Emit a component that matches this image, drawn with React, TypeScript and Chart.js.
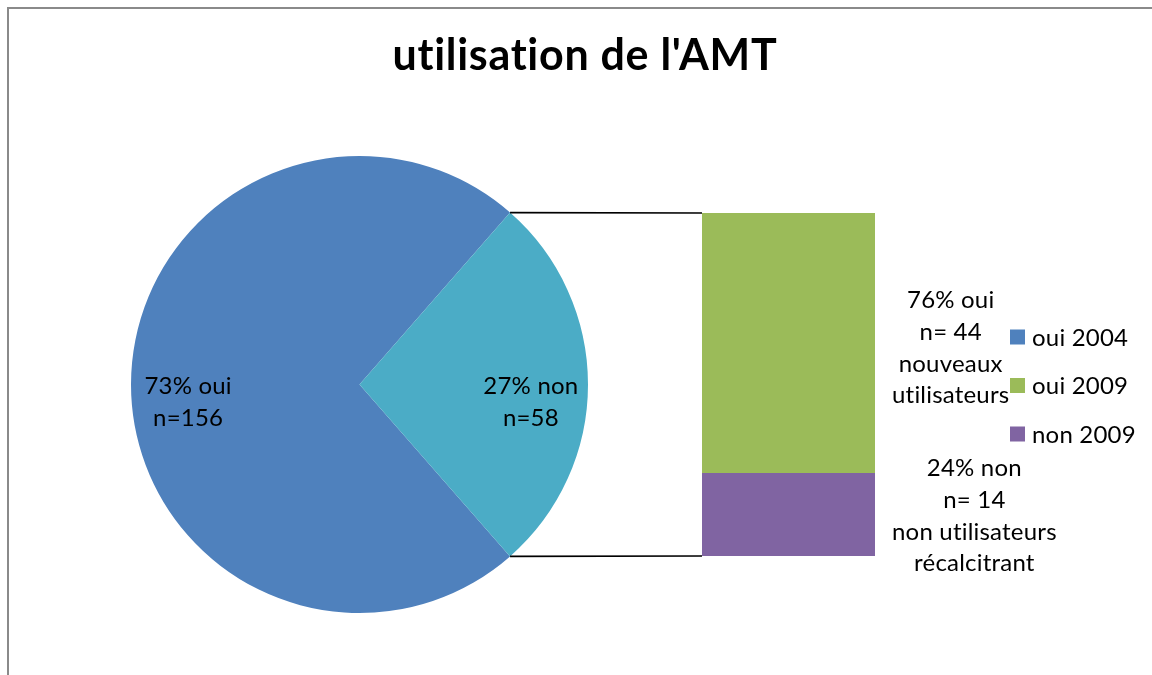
import React, { useEffect, useRef } from 'react';
import { Chart, registerables } from 'chart.js';

Chart.register(...registerables);

// ---------- data ----------
const chartTitle = "utilisation de l'AMT";

const pieCategories = ['oui 2004', 'non 2004'];
const pieValues = [156, 58];
const pieDataLabels = [
  ['73% oui', 'n=156'],
  ['27% non', 'n=58'],
];

const barCategories = ['2009'];
const barSeriesNames = ['non 2009', 'oui 2009'];
const barNon2009 = [14];
const barOui2009 = [44];
const barDataLabels = [
  ['24% non', 'n= 14', 'non utilisateurs', 'récalcitrant'],
  ['76% oui', 'n= 44', 'nouveaux', 'utilisateurs'],
];

const legendLabels = ['oui 2004', 'oui 2009', 'non 2009'];

// ---------- style ----------
const BLUE = '#4F81BD';
const TEAL = '#4BACC6';
const GREEN = '#9BBB59';
const PURPLE = '#8064A2';
const legendColors = [BLUE, GREEN, PURPLE];

const FONT = 'Lato, "Open Sans", "Liberation Sans", sans-serif';
const W = 1144;
const H = 667;
const BODY_PX = 24;
const TITLE_PX = 43;

function noLigatures(ctx: any, spacing: string) {
  try {
    ctx.textRendering = 'optimizeSpeed';
  } catch (e) {}
  try {
    ctx.letterSpacing = spacing;
  } catch (e) {}
}

export default function App() {
  const pieRef = useRef<HTMLCanvasElement | null>(null);
  const barRef = useRef<HTMLCanvasElement | null>(null);

  useEffect(() => {
    if (!pieRef.current || !barRef.current) return;

    const total = pieValues.reduce((a, b) => a + b, 0);
    const firstSpan = (360 * pieValues[0]) / total;
    // centre the first slice at 9 o'clock so the second faces the bar
    const rotation = 270 - firstSpan / 2;

    const pieLabelPlugin = {
      id: 'pieLabels',
      afterDatasetsDraw(chart: any) {
        const ctx = chart.ctx;
        const meta = chart.getDatasetMeta(0);
        ctx.save();
        noLigatures(ctx, '0.2px');
        ctx.font = `${BODY_PX}px ${FONT}`;
        ctx.fillStyle = '#000';
        ctx.textAlign = 'center';
        ctx.textBaseline = 'middle';
        meta.data.forEach((arc: any, i: number) => {
          const p = arc.getProps(['x', 'y', 'startAngle', 'endAngle', 'outerRadius'], true);
          const mid = (p.startAngle + p.endAngle) / 2;
          const r = p.outerRadius * 0.75;
          const cx = p.x + r * Math.cos(mid);
          const cy = p.y + r * Math.sin(mid) + 18;
          const lines = pieDataLabels[i];
          const gap = 32.5;
          lines.forEach((t, k) => {
            ctx.fillText(t, cx, cy + (k - (lines.length - 1) / 2) * gap);
          });
        });
        ctx.restore();
      },
    };

    const pie = new Chart(pieRef.current, {
      type: 'pie',
      data: {
        labels: pieCategories,
        datasets: [
          {
            data: pieValues,
            backgroundColor: [BLUE, TEAL],
            borderWidth: 0,
          },
        ],
      },
      options: {
        responsive: false,
        animation: false,
        rotation,
        layout: { padding: { left: 123, right: 564, top: 148, bottom: 62 } },
        plugins: { legend: { display: false }, tooltip: { enabled: false }, title: { display: false } },
      },
      plugins: [pieLabelPlugin],
    });

    const overlayPlugin = {
      id: 'overlay',
      afterDraw(chart: any) {
        const ctx = chart.ctx;
        ctx.save();

        // title
        noLigatures(ctx, '0.7px');
        ctx.font = `bold ${TITLE_PX}px ${FONT}`;
        ctx.fillStyle = '#000';
        ctx.textAlign = 'center';
        ctx.textBaseline = 'alphabetic';
        ctx.fillText(chartTitle, 577, 62);

        // connector lines from pie slice edges to bar corners
        const pieMeta = pie.getDatasetMeta(0);
        const arc: any = pieMeta.data[1];
        const ap = arc.getProps(['x', 'y', 'startAngle', 'endAngle', 'outerRadius'], true);
        const top: any = chart.getDatasetMeta(1).data[0];
        const bottom: any = chart.getDatasetMeta(0).data[0];
        const tp = top.getProps(['x', 'y', 'base', 'width'], true);
        const bp = bottom.getProps(['x', 'y', 'base', 'width'], true);
        const barLeft = tp.x - tp.width / 2;
        ctx.strokeStyle = '#000';
        ctx.lineWidth = 1.6;
        ctx.beginPath();
        ctx.moveTo(ap.x + ap.outerRadius * Math.cos(ap.startAngle), ap.y + ap.outerRadius * Math.sin(ap.startAngle));
        ctx.lineTo(barLeft, tp.y);
        ctx.moveTo(ap.x + ap.outerRadius * Math.cos(ap.endAngle), ap.y + ap.outerRadius * Math.sin(ap.endAngle));
        ctx.lineTo(barLeft, bp.base);
        ctx.stroke();

        // bar data labels (to the right of each segment)
        noLigatures(ctx, '0.2px');
        ctx.font = `${BODY_PX}px ${FONT}`;
        ctx.textBaseline = 'middle';
        ctx.textAlign = 'center';
        const gap = 31.7;
        chart.data.datasets.forEach((_ds: any, i: number) => {
          const el: any = chart.getDatasetMeta(i).data[0];
          const p = el.getProps(['x', 'y', 'base', 'width'], true);
          const lines = barDataLabels[i];
          const maxW = Math.max(...lines.map((t) => ctx.measureText(t).width));
          const boxLeft = p.x + p.width / 2 + 17;
          const cx = boxLeft + maxW / 2;
          const cy = (p.y + p.base) / 2 + (i === 1 ? 5 : 1.5);
          lines.forEach((t, k) => {
            ctx.fillText(t, cx, cy + (k - (lines.length - 1) / 2) * gap);
          });
        });

        // legend
        ctx.textAlign = 'left';
        legendLabels.forEach((t, i) => {
          const yc = 329 + i * 48.5;
          ctx.fillStyle = legendColors[i];
          ctx.fillRect(1002, yc - 7.5, 15, 15);
          ctx.fillStyle = '#000';
          ctx.fillText(t, 1024, yc + 1);
        });

        ctx.restore();
      },
    };

    const bar = new Chart(barRef.current, {
      type: 'bar',
      data: {
        labels: barCategories,
        datasets: [
          { label: barSeriesNames[0], data: barNon2009, backgroundColor: PURPLE, borderWidth: 0 },
          { label: barSeriesNames[1], data: barOui2009, backgroundColor: GREEN, borderWidth: 0 },
        ],
      },
      options: {
        responsive: false,
        animation: false,
        layout: { padding: { left: 694, right: 277, top: 205, bottom: 119 } },
        datasets: { bar: { barPercentage: 1, categoryPercentage: 1 } },
        scales: {
          x: { display: false, stacked: true },
          y: { display: false, stacked: true, min: 0, max: pieValues[1] },
        },
        plugins: { legend: { display: false }, tooltip: { enabled: false }, title: { display: false } },
      },
      plugins: [overlayPlugin],
    });

    return () => {
      bar.destroy();
      pie.destroy();
    };
  }, []);

  return (
    <div
      style={{
        position: 'fixed',
        left: 8,
        top: 8,
        width: W,
        height: H,
        background: '#fff',
      }}
    >
      <div
        style={{
          position: 'absolute',
          left: -1,
          top: -1,
          width: W + 10,
          height: H + 10,
          borderLeft: '2px solid #8a8a8a',
          borderTop: '2px solid #8a8a8a',
          boxSizing: 'border-box',
        }}
      />
      <canvas ref={pieRef} width={W} height={H} style={{ position: 'absolute', left: 0, top: 0, width: W, height: H }} />
      <canvas ref={barRef} width={W} height={H} style={{ position: 'absolute', left: 0, top: 0, width: W, height: H }} />
    </div>
  );
}
